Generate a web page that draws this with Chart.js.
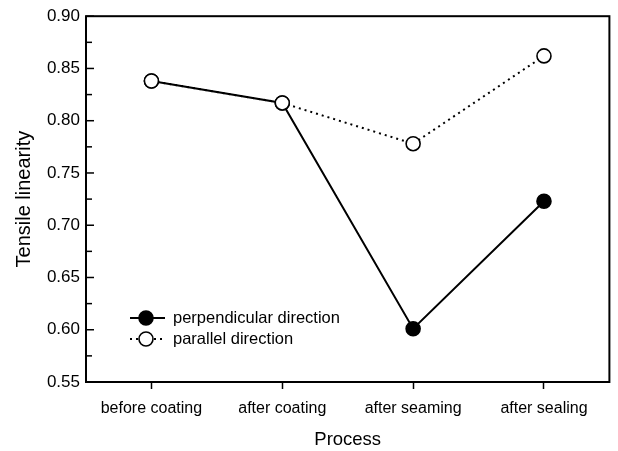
<!DOCTYPE html>
<html>
<head>
<meta charset="utf-8">
<script src="https://cdn.jsdelivr.net/npm/chart.js@4"></script>
<style>
  body { margin: 0; background: #fff; }
  canvas { display: block; }
</style>
</head>
<body>
<canvas id="chart" width="618" height="451"></canvas>
<script>
const categories = ["before coating", "after coating", "after seaming", "after sealing"];
const perpendicular = [0.838, 0.817, 0.601, 0.723];
const parallel = [0.838, 0.817, 0.778, 0.862];
const yTicks = [0.55, 0.60, 0.65, 0.70, 0.75, 0.80, 0.85, 0.90];
const legendLabels = ["perpendicular direction", "parallel direction"];

const FONT = "'Liberation Sans', Arial, sans-serif";

// frame, inward y ticks and the in-plot legend
const framePlugin = {
  id: "frame",
  afterDatasetsDraw(chart) {
    const ctx = chart.ctx;
    const a = chart.chartArea;
    const y = chart.scales.y;

    ctx.save();
    ctx.strokeStyle = "#000";
    ctx.lineWidth = 2;
    ctx.strokeRect(a.left, a.top, a.right - a.left, a.bottom - a.top);

    ctx.lineWidth = 1.5;
    for (let i = 0; i < yTicks.length; i++) {
      const py = y.getPixelForValue(yTicks[i]);
      ctx.beginPath();
      ctx.moveTo(a.left, py);
      ctx.lineTo(a.left + 8, py);
      ctx.stroke();
      if (i < yTicks.length - 1) {
        const pm = y.getPixelForValue((yTicks[i] + yTicks[i + 1]) / 2);
        ctx.beginPath();
        ctx.moveTo(a.left, pm);
        ctx.lineTo(a.left + 6, pm);
        ctx.stroke();
      }
    }

    // legend
    const lx = 130, lw = 35, rows = [318, 339];
    ctx.font = "16.5px " + FONT;
    ctx.textBaseline = "middle";
    ctx.fillStyle = "#000";
    rows.forEach((ry, i) => {
      ctx.lineWidth = 2;
      ctx.setLineDash(i === 0 ? [] : [2, 4]);
      ctx.beginPath();
      ctx.moveTo(lx, ry);
      ctx.lineTo(lx + lw, ry);
      ctx.stroke();
      ctx.setLineDash([]);
      ctx.beginPath();
      ctx.arc(lx + 16, ry, 7, 0, Math.PI * 2);
      ctx.fillStyle = i === 0 ? "#000" : "#fff";
      ctx.fill();
      ctx.lineWidth = 1.6;
      ctx.stroke();
      ctx.fillStyle = "#000";
      ctx.fillText(legendLabels[i], 173, ry);
    });
    ctx.restore();
  }
};

new Chart(document.getElementById("chart"), {
  type: "line",
  data: {
    labels: categories,
    datasets: [
      {
        label: legendLabels[0],
        data: perpendicular,
        borderColor: "#000",
        borderWidth: 2,
        pointRadius: 7,
        pointBorderWidth: 1.6,
        pointBackgroundColor: "#000",
        pointBorderColor: "#000",
        tension: 0,
        order: 2
      },
      {
        label: legendLabels[1],
        data: parallel,
        borderColor: "#000",
        borderWidth: 2,
        borderDash: [2, 4],
        pointRadius: 7,
        pointBorderWidth: 1.6,
        pointBackgroundColor: "#fff",
        pointBorderColor: "#000",
        tension: 0,
        order: 1
      }
    ]
  },
  options: {
    responsive: false,
    devicePixelRatio: 1,
    animation: false,
    layout: { padding: { top: 15, right: 2, left: 0, bottom: 0 } },
    plugins: {
      legend: { display: false },
      tooltip: { enabled: false }
    },
    scales: {
      x: {
        offset: true,
        grid: {
          offset: false,
          drawOnChartArea: false,
          tickLength: 7,
          tickColor: "#000",
          tickWidth: 1.5
        },
        border: { display: false },
        ticks: {
          color: "#000",
          padding: 10,
          maxRotation: 0,
          font: { family: FONT, size: 16 }
        },
        title: {
          display: true,
          text: "Process",
          color: "#000",
          padding: { top: 4, bottom: 0 },
          font: { family: FONT, size: 18.5 }
        },
        afterFit(scale) { scale.height = 69; }
      },
      y: {
        min: 0.55,
        max: 0.90,
        grid: { drawOnChartArea: false, drawTicks: false },
        border: { display: false },
        ticks: {
          stepSize: 0.05,
          color: "#000",
          padding: 6,
          font: { family: FONT, size: 17 },
          callback: v => Number(v).toFixed(2)
        },
        title: {
          display: true,
          text: "Tensile linearity",
          color: "#000",
          padding: { top: 12, bottom: 0 },
          font: { family: FONT, size: 20 }
        },
        afterFit(scale) { scale.width = 86; }
      }
    }
  },
  plugins: [framePlugin]
});
</script>
</body>
</html>
